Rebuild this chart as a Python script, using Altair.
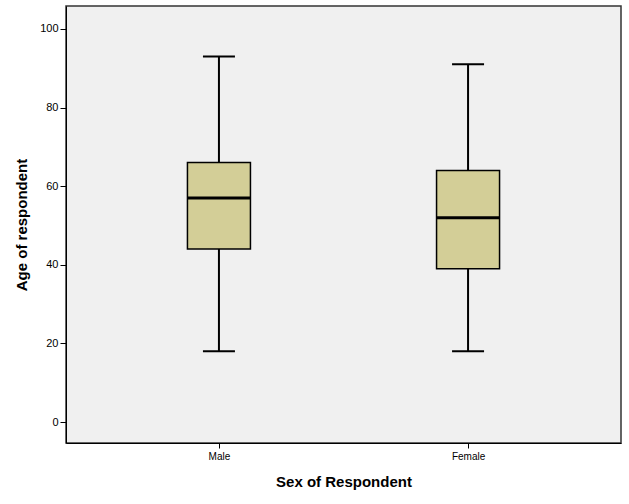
import altair as alt
import pandas as pd

sexes = ["Male", "Female"]
mins = [18, 18]
q1s = [44, 39]
medians = [57, 52]
q3s = [66, 64]
maxs = [93, 91]

df = pd.DataFrame({"sex": sexes, "lo": mins, "q1": q1s, "med": medians, "q3": q3s, "hi": maxs})

FONT = "Liberation Sans"
xscale = alt.Scale(type="point", domain=sexes, padding=0.614)
yscale = alt.Scale(domain=[-5.34, 105.85], nice=False, zero=False)

xenc = alt.X("sex:N", scale=xscale, sort=sexes,
             axis=alt.Axis(title="Sex of Respondent", labelAngle=0, labelFontSize=10,
                           labelColor="#000", tickSize=5, tickColor="#000", domainColor="#000",
                           labelPadding=3, titleFontSize=15, titleFontWeight="bold",
                           titlePadding=13, titleColor="#000", grid=False))

base = alt.Chart(df)

whisk = base.mark_rule(color="#000", strokeWidth=2, opacity=1).encode(
    x=xenc,
    y=alt.Y("lo:Q", scale=yscale,
            axis=alt.Axis(title="Age of respondent", values=[0, 20, 40, 60, 80, 100],
                          labelFontSize=11, labelColor="#000", tickSize=6, tickColor="#000",
                          domainColor="#000", labelPadding=2, titleFontSize=15,
                          titleFontWeight="bold", titleColor="#000", titlePadding=10, grid=False)),
    y2="hi:Q",
)
capsLo = base.mark_tick(color="#000", size=32, thickness=2, opacity=1).encode(x=xenc, y=alt.Y("lo:Q", scale=yscale))
capsHi = base.mark_tick(color="#000", size=32, thickness=2, opacity=1).encode(x=xenc, y=alt.Y("hi:Q", scale=yscale))
box = base.mark_bar(size=63, color="#D3CE97", stroke="#000", strokeWidth=1.5, opacity=1).encode(
    x=xenc, y=alt.Y("q1:Q", scale=yscale), y2="q3:Q")
med = base.mark_tick(color="#000", size=63, thickness=3, opacity=1).encode(x=xenc, y=alt.Y("med:Q", scale=yscale))

chart = alt.layer(whisk, box, med, capsLo, capsHi).properties(
    width=555, height=437,
    autosize=alt.AutoSizeParams(type="none"),
    padding={"left": 66, "top": 6, "right": 8, "bottom": 61},
    background="#FFFFFF",
).configure(font=FONT).configure_view(
    fill="#F0F0F0", stroke="#333", strokeWidth=1.5
)

chart.save("out.html", embed_options={"renderer": "svg", "actions": False})
